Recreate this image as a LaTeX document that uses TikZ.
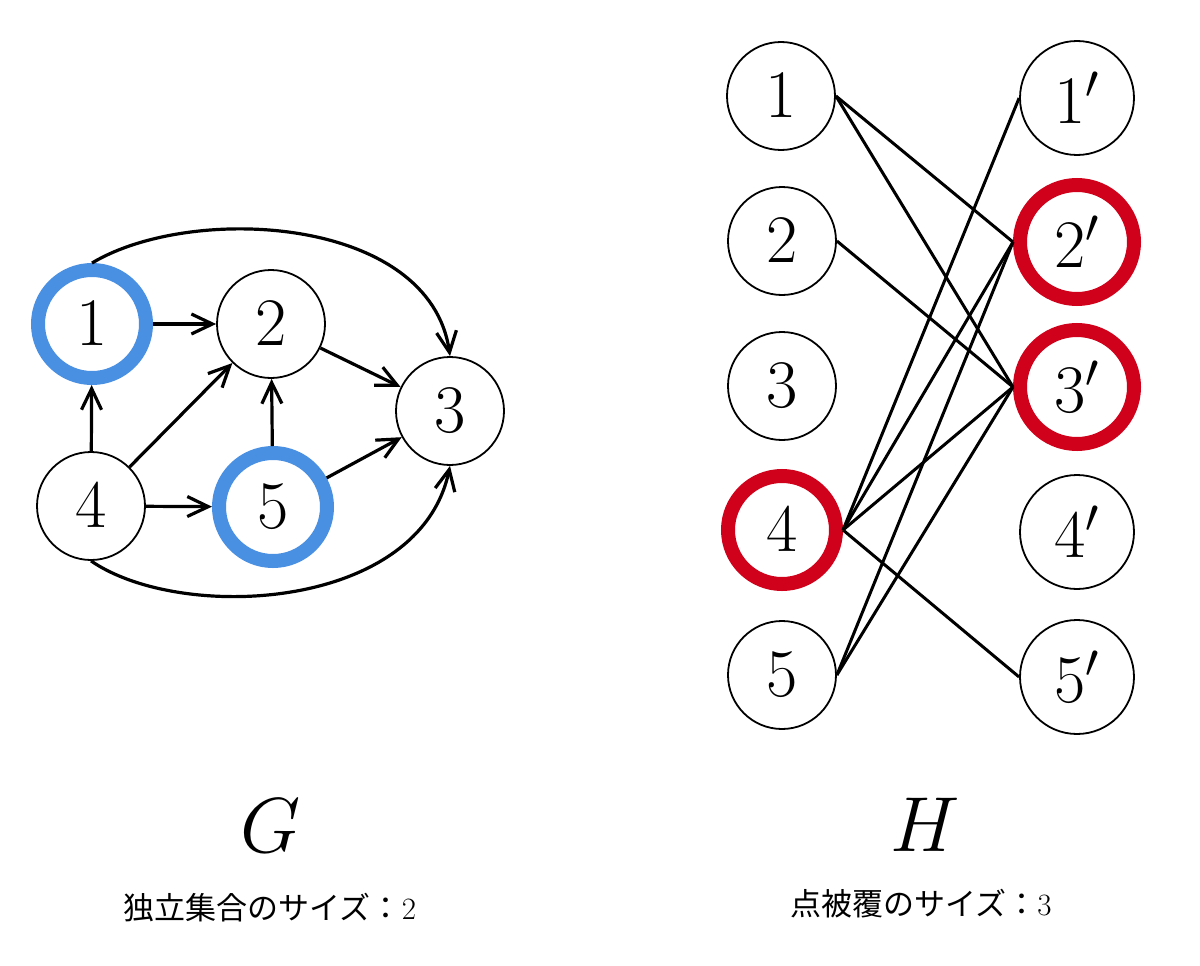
\RequirePackage{fix-cm}
\documentclass[tikz,border=0pt]{standalone}
\usepackage{fontspec}
\newfontfamily\jp{Noto Sans CJK JP}
\usetikzlibrary{arrows.meta}
\definecolor{ringblue}{HTML}{4A90E2}
\definecolor{ringred}{HTML}{D0021B}
\begin{document}
\begin{tikzpicture}[x=1pt,y=-1pt,
  vtx/.style={circle,draw,line width=1.8pt,minimum size=108pt,inner sep=0pt,fill=white,font=\fontsize{68}{72}\selectfont},
  vtxp/.style={vtx,minimum size=114pt},
  bluering/.style={draw=ringblue,line width=14pt},
  redring/.style={draw=ringred,line width=14pt},
  arr/.style={line width=3.2pt,-{Straight Barb[length=21pt,width=20pt]}},
  edg/.style={line width=3pt},
  biglabel/.style={font=\fontsize{78}{80}\selectfont},
  caption/.style={font=\fontsize{31}{34}\selectfont}]
\useasboundingbox (0,0) rectangle (1200,966);
% Graph G
\node[vtx,bluering] (g1) at (92,324) {$1$};
\node[vtx] (g2) at (271,324) {$2$};
\node[vtx] (g3) at (450,411) {$3$};
\node[vtx] (g4) at (91,506) {$4$};
\node[vtx,bluering] (g5) at (273,507) {$5$};
\draw[arr] (g1) -- (g2);
\draw[arr] (g4) -- (g1);
\draw[arr] (g4) -- (g2);
\draw[arr] (g4) -- (g5);
\draw[arr] (g5) -- (g2);
\draw[arr] (g2) -- (g3);
\draw[arr] (g5) -- (g3);
\draw[arr] (g1.north) .. controls +(100,-60) and +(-20,-140) .. (g3.north);
\draw[arr] (g4.south) .. controls +(90,62) and +(-30,145) .. (g3.south);
\node[biglabel] (lg) at (271,826) {$G$};
\node[caption] (cg) at (270,908) {{\jp 独立集合のサイズ：}2};
% Graph H
\node[vtx] (h1) at (781,96) {$1$};
\node[vtx] (h2) at (782,241) {$2$};
\node[vtx] (h3) at (782,386) {$3$};
\node[vtx,redring] (h4) at (782,530) {$4$};
\node[vtx] (h5) at (782,675) {$5$};
\node[vtxp] (k1) at (1077,98) {$1'$};
\node[vtxp,redring] (k2) at (1077,242) {$2'$};
\node[vtxp,redring] (k3) at (1077,387) {$3'$};
\node[vtxp] (k4) at (1077,532) {$4'$};
\node[vtxp] (k5) at (1077,677) {$5'$};
\draw[edg] (h1.east) -- (k2.west);
\draw[edg] (h1.east) -- (k3.west);
\draw[edg] (h2.east) -- (k3.west);
\draw[edg] (h4.east) -- (k1.west);
\draw[edg] (h4.east) -- (k2.west);
\draw[edg] (h4.east) -- (k3.west);
\draw[edg] (h4.east) -- (k5.west);
\draw[edg] (h5.east) -- (k2.west);
\draw[edg] (h5.east) -- (k3.west);
\node[biglabel] (lh) at (925,825) {$H$};
\node[caption] (ch) at (921,904) {{\jp 点被覆のサイズ：}3};
\end{tikzpicture}
\end{document}
